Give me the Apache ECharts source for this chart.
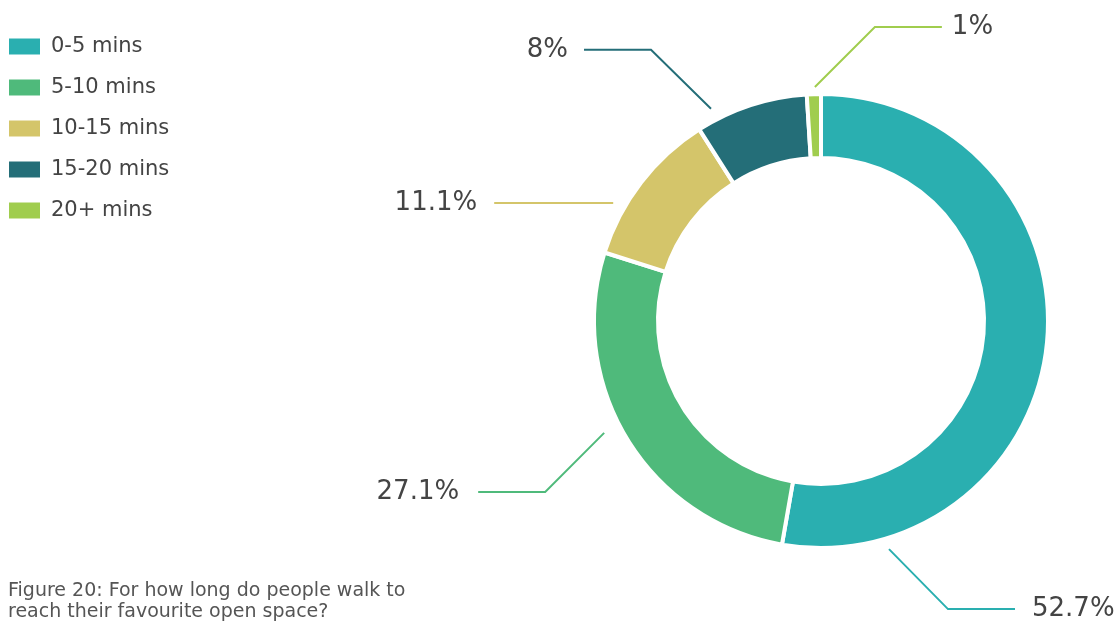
<!DOCTYPE html>
<html>
<head>
<meta charset="utf-8">
<script src="https://cdn.jsdelivr.net/npm/echarts@6/dist/echarts.min.js"></script>
<style>html,body{margin:0;padding:0;background:#fff}#c{width:1119px;height:623px}</style>
</head>
<body>
<div id="c"></div>
<script>
const categories = ['0-5 mins', '5-10 mins', '10-15 mins', '15-20 mins', '20+ mins'];
const values = [52.7, 27.1, 11.1, 8, 1];
const colors = ['#2aafb0', '#4fba7b', '#d4c56a', '#246e78', '#a0cd4e'];
const caption = 'Figure 20: For how long do people walk to\nreach their favourite open space?';

// label leader-line geometry (layout only)
const labelGeom = [
  { angle: -73.4, r: 238, dx: 59, dy: 60, h: 67, gap: 17, side: 1 },
  { angle: 207.3, r: 244, dx: -59, dy: 59, h: 67, gap: 19, side: -1 },
  { angle: 150.4, r: 239, dx: 0, dy: 0, h: 119, gap: 17, side: -1 },
  { angle: 117.4, r: 239, dx: -60, dy: -59, h: 67, gap: 16, side: -1 },
  { angle: 91.5, r: 234, dx: 60, dy: -60, h: 67, gap: 10, side: 1 }
];
const CX = 821, CY = 321, R_IN = 163, R_OUT = 227;

const chart = echarts.init(document.getElementById('c'), null, { renderer: 'canvas' });
const font = 'DejaVu Sans';
chart.setOption({
  animation: false,
  color: colors,
  title: {
    text: caption,
    left: 3,
    top: 576,
    textStyle: { fontFamily: font, fontSize: 19, fontWeight: 'normal', color: '#555', lineHeight: 21 }
  },
  legend: {
    orient: 'vertical',
    left: 9,
    top: 36,
    padding: 0,
    itemWidth: 31,
    itemHeight: 16,
    itemGap: 20,
    icon: 'rect',
    itemStyle: { borderWidth: 0 },
    data: categories,
    textStyle: { fontFamily: font, fontSize: 21, color: '#444', lineHeight: 20, padding: [0, 0, 0, 6] }
  },
  series: [{
    type: 'pie',
    center: [CX, CY],
    radius: [R_IN, R_OUT],
    startAngle: 90,
    clockwise: true,
    avoidLabelOverlap: false,
    itemStyle: { borderColor: '#fff', borderWidth: 4 },
    label: {
      show: true,
      formatter: '{c}%',
      fontFamily: font,
      fontSize: 26,
      color: '#444'
    },
    labelLine: { show: true, lineStyle: { width: 2 } },
    labelLayout: function (p) {
      const g = labelGeom[p.dataIndex];
      const a = g.angle * Math.PI / 180;
      const x0 = CX + g.r * Math.cos(a);
      const y0 = CY - g.r * Math.sin(a);
      const x1 = x0 + g.dx, y1 = y0 + g.dy;
      const x2 = x1 + g.side * g.h;
      const pts = (g.dx === 0 && g.dy === 0) ? [[x0, y0], [(x0 + x2) / 2, y0], [x2, y0]] : [[x0, y0], [x1, y1], [x2, y1]];
      return {
        x: x2 + g.side * g.gap,
        y: y1,
        align: g.side > 0 ? 'left' : 'right',
        verticalAlign: 'middle',
        labelLinePoints: pts
      };
    },
    data: categories.map((c, i) => ({ name: c, value: values[i] }))
  }]
});
</script>
</body>
</html>
